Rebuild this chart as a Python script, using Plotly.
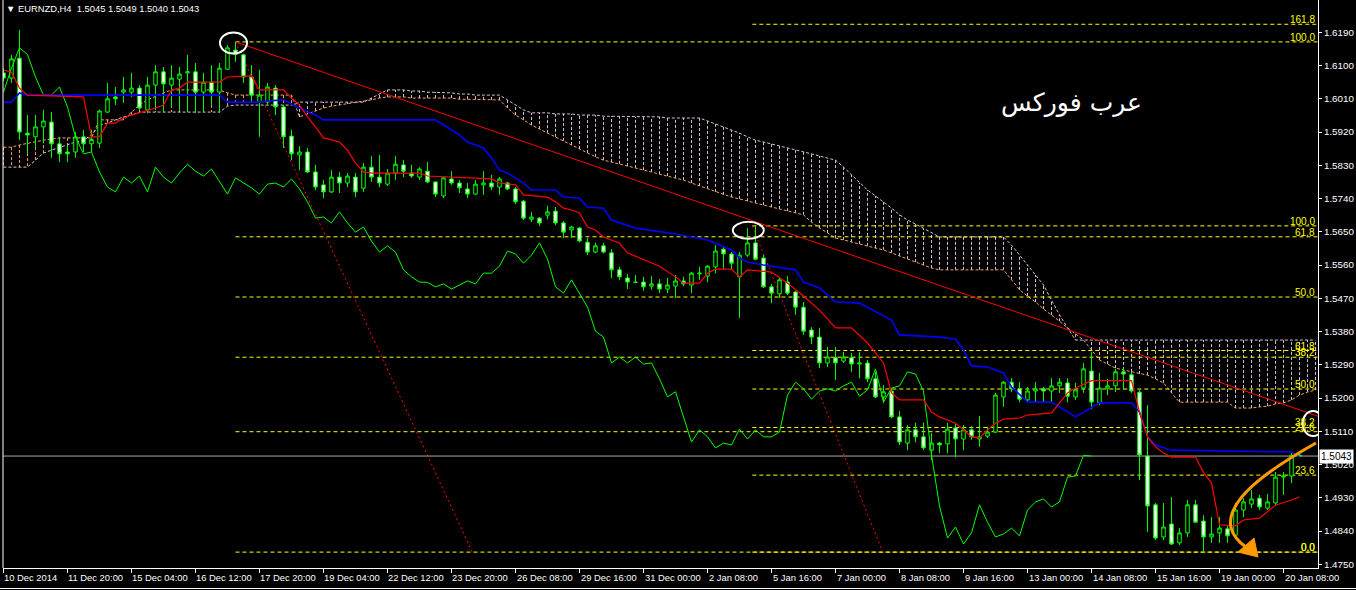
import plotly.graph_objects as go

# ---------------- data ----------------
tick_labels = ["10 Dec 2014", "11 Dec 20:00", "15 Dec 04:00", "16 Dec 12:00", "17 Dec 20:00",
               "19 Dec 04:00", "22 Dec 12:00", "23 Dec 20:00", "26 Dec 08:00", "29 Dec 16:00",
               "31 Dec 00:00", "2 Jan 08:00", "5 Jan 16:00", "7 Jan 00:00", "8 Jan 08:00",
               "9 Jan 16:00", "13 Jan 00:00", "14 Jan 08:00", "15 Jan 16:00", "19 Jan 00:00",
               "20 Jan 08:00"]
price_tick_labels = ["1.4750", "1.4840", "1.4930", "1.5020", "1.5110", "1.5200", "1.5290", "1.5380",
                     "1.5470", "1.5560", "1.5650", "1.5740", "1.5830", "1.5920", "1.6010", "1.6100",
                     "1.6190"]

opens = [1.6080, 1.6066, 1.6120, 1.5917, 1.5907, 1.5934, 1.5947, 1.5888, 1.5866, 1.5866,
         1.5907, 1.5888, 1.5890, 1.5974, 1.6015, 1.6028, 1.6028, 1.6039, 1.5980, 1.6047,
         1.6083, 1.6047, 1.6063, 1.6080, 1.6083, 1.6028, 1.6055, 1.6028, 1.6090, 1.6142,
         1.6129, 1.6069, 1.6001, 1.6001, 1.6039, 1.5988, 1.5909, 1.5858, 1.5866, 1.5812,
         1.5777, 1.5758, 1.5798, 1.5782, 1.5798, 1.5768, 1.5825, 1.5798, 1.5779, 1.5809,
         1.5831, 1.5809, 1.5798, 1.5814, 1.5785, 1.5747, 1.5793, 1.5782, 1.5766, 1.5752,
         1.5777, 1.5782, 1.5771, 1.5782, 1.5766, 1.5733, 1.5684, 1.5687, 1.5695, 1.5706,
         1.5674, 1.5655, 1.5660, 1.5622, 1.5595, 1.5612, 1.5593, 1.5547, 1.5525, 1.5514,
         1.5514, 1.5503, 1.5509, 1.5495, 1.5503, 1.5517, 1.5506, 1.5536, 1.5530, 1.5555,
         1.5603, 1.5590, 1.5528, 1.5587, 1.5620, 1.5579, 1.5501, 1.5482, 1.5514, 1.5487,
         1.5446, 1.5384, 1.5365, 1.5295, 1.5309, 1.5300, 1.5309, 1.5292, 1.5295, 1.5252,
         1.5203, 1.5219, 1.5149, 1.5078, 1.5114, 1.5095, 1.5059, 1.5078, 1.5076, 1.5119,
         1.5089, 1.5114, 1.5089, 1.5097, 1.5108, 1.5203, 1.5243, 1.5225, 1.5195, 1.5219,
         1.5225, 1.5219, 1.5233, 1.5241, 1.5203, 1.5227, 1.5273, 1.5187, 1.5227, 1.5233,
         1.5271, 1.5263, 1.5216, 1.5043, 1.4911, 1.4824, 1.4859, 1.4808, 1.4835, 1.4911,
         1.4867, 1.4824, 1.4835, 1.4846, 1.4829, 1.4897, 1.4913, 1.4929, 1.4902, 1.4916,
         1.4986, 1.4989, 1.5045]

highs = [1.6092, 1.6129, 1.6196, 1.5966, 1.5966, 1.5980, 1.5974, 1.5907, 1.5885, 1.5920,
         1.5926, 1.5926, 1.5980, 1.6053, 1.6042, 1.6069, 1.6080, 1.6047, 1.6069, 1.6101,
         1.6096, 1.6101, 1.6096, 1.6129, 1.6107, 1.6080, 1.6101, 1.6107, 1.6155, 1.6164,
         1.6132, 1.6101, 1.6088, 1.6053, 1.6047, 1.5993, 1.5926, 1.5882, 1.5877, 1.5831,
         1.5790, 1.5817, 1.5812, 1.5809, 1.5809, 1.5836, 1.5855, 1.5858, 1.5820, 1.5855,
         1.5844, 1.5831, 1.5825, 1.5839, 1.5785, 1.5798, 1.5814, 1.5790, 1.5782, 1.5790,
         1.5814, 1.5804, 1.5798, 1.5785, 1.5771, 1.5736, 1.5704, 1.5690, 1.5720, 1.5717,
         1.5679, 1.5666, 1.5663, 1.5633, 1.5620, 1.5620, 1.5603, 1.5555, 1.5536, 1.5533,
         1.5528, 1.5530, 1.5522, 1.5525, 1.5533, 1.5528, 1.5541, 1.5555, 1.5560, 1.5614,
         1.5609, 1.5595, 1.5595, 1.5660, 1.5666, 1.5587, 1.5509, 1.5528, 1.5530, 1.5490,
         1.5460, 1.5392, 1.5390, 1.5338, 1.5338, 1.5325, 1.5322, 1.5325, 1.5303, 1.5271,
         1.5235, 1.5227, 1.5165, 1.5127, 1.5133, 1.5133, 1.5105, 1.5081, 1.5133, 1.5133,
         1.5127, 1.5124, 1.5151, 1.5122, 1.5214, 1.5246, 1.5254, 1.5243, 1.5230, 1.5243,
         1.5230, 1.5254, 1.5254, 1.5254, 1.5241, 1.5295, 1.5325, 1.5268, 1.5252, 1.5279,
         1.5281, 1.5271, 1.5222, 1.5181, 1.4916, 1.4916, 1.4932, 1.4848, 1.4924, 1.4924,
         1.4883, 1.4878, 1.4878, 1.4856, 1.4916, 1.4929, 1.4951, 1.4938, 1.4940, 1.5000,
         1.5000, 1.5052, 1.5049]

lows = [1.6058, 1.6053, 1.5898, 1.5863, 1.5880, 1.5890, 1.5850, 1.5839, 1.5839, 1.5850,
        1.5866, 1.5866, 1.5877, 1.5972, 1.5993, 1.5999, 1.6015, 1.5980, 1.5972, 1.5980,
        1.5974, 1.5988, 1.5980, 1.5974, 1.5972, 1.5974, 1.5993, 1.5972, 1.6088, 1.6110,
        1.6053, 1.6004, 1.5907, 1.5993, 1.5966, 1.5877, 1.5844, 1.5817, 1.5809, 1.5763,
        1.5741, 1.5755, 1.5755, 1.5771, 1.5744, 1.5758, 1.5785, 1.5771, 1.5774, 1.5790,
        1.5798, 1.5796, 1.5790, 1.5782, 1.5744, 1.5741, 1.5777, 1.5755, 1.5741, 1.5750,
        1.5750, 1.5763, 1.5750, 1.5763, 1.5725, 1.5682, 1.5676, 1.5666, 1.5684, 1.5668,
        1.5633, 1.5633, 1.5622, 1.5587, 1.5592, 1.5592, 1.5525, 1.5520, 1.5495, 1.5511,
        1.5490, 1.5493, 1.5484, 1.5484, 1.5471, 1.5503, 1.5484, 1.5520, 1.5514, 1.5538,
        1.5549, 1.5547, 1.5417, 1.5582, 1.5574, 1.5498, 1.5457, 1.5471, 1.5479, 1.5425,
        1.5371, 1.5346, 1.5281, 1.5284, 1.5249, 1.5295, 1.5271, 1.5254, 1.5243, 1.5200,
        1.5187, 1.5146, 1.5073, 1.5059, 1.5081, 1.5059, 1.5032, 1.5051, 1.5051, 1.5040,
        1.5059, 1.5087, 1.5068, 1.5092, 1.5105, 1.5176, 1.5216, 1.5189, 1.5187, 1.5189,
        1.5187, 1.5187, 1.5214, 1.5189, 1.5195, 1.5214, 1.5170, 1.5181, 1.5208, 1.5216,
        1.5222, 1.5214, 1.4978, 1.4838, 1.4816, 1.4816, 1.4802, 1.4802, 1.4824, 1.4862,
        1.4781, 1.4808, 1.4808, 1.4808, 1.4821, 1.4878, 1.4902, 1.4897, 1.4897, 1.4910,
        1.4938, 1.4970, 1.5040]

closes = [1.6066, 1.6118, 1.5920, 1.5912, 1.5934, 1.5950, 1.5888, 1.5861, 1.5861, 1.5907,
          1.5888, 1.5900, 1.5977, 1.6010, 1.6010, 1.6034, 1.6039, 1.5985, 1.6047, 1.6083,
          1.6050, 1.6066, 1.6077, 1.6083, 1.6028, 1.6055, 1.6028, 1.6093, 1.6148, 1.6130,
          1.6069, 1.6020, 1.6020, 1.6042, 1.5988, 1.5907, 1.5861, 1.5866, 1.5812, 1.5771,
          1.5758, 1.5798, 1.5782, 1.5801, 1.5758, 1.5825, 1.5798, 1.5782, 1.5809, 1.5833,
          1.5814, 1.5801, 1.5820, 1.5785, 1.5752, 1.5796, 1.5782, 1.5769, 1.5752, 1.5779,
          1.5782, 1.5771, 1.5793, 1.5766, 1.5731, 1.5687, 1.5690, 1.5674, 1.5704, 1.5674,
          1.5649, 1.5663, 1.5625, 1.5595, 1.5612, 1.5595, 1.5547, 1.5528, 1.5514, 1.5513,
          1.5501, 1.5509, 1.5495, 1.5506, 1.5517, 1.5509, 1.5538, 1.5538, 1.5557, 1.5598,
          1.5590, 1.5565, 1.5587, 1.5620, 1.5576, 1.5501, 1.5484, 1.5520, 1.5484, 1.5446,
          1.5381, 1.5365, 1.5295, 1.5311, 1.5295, 1.5311, 1.5292, 1.5295, 1.5252, 1.5203,
          1.5217, 1.5149, 1.5081, 1.5114, 1.5095, 1.5065, 1.5078, 1.5073, 1.5116, 1.5089,
          1.5114, 1.5095, 1.5095, 1.5108, 1.5208, 1.5243, 1.5225, 1.5197, 1.5219, 1.5225,
          1.5219, 1.5233, 1.5243, 1.5205, 1.5222, 1.5279, 1.5189, 1.5227, 1.5233, 1.5271,
          1.5265, 1.5219, 1.5046, 1.4908, 1.4821, 1.4851, 1.4805, 1.4835, 1.4911, 1.4864,
          1.4824, 1.4832, 1.4848, 1.4827, 1.4897, 1.4919, 1.4927, 1.4905, 1.4919, 1.4986,
          1.4989, 1.5045, 1.5043]

# Ichimoku Tenkan-sen (red) read at its turning points: bar index, price
tenkan_bars = [0, 1, 2, 3, 10, 11, 12, 13, 14, 15, 16, 17, 18, 19, 20, 21, 22, 23, 27, 28, 31, 32, 35,
               36, 37, 38, 39, 40, 42, 43, 44, 45, 46, 52, 53, 57, 61, 62, 64, 65, 68, 69, 70, 71,
               72, 73, 74, 75, 77, 78, 80, 82, 84, 85, 87, 88, 89, 91, 92, 93, 96, 98, 100, 102,
               104, 106, 108, 109, 110, 111, 112, 115, 116, 117, 119, 120, 121, 122, 123, 124, 125,
               127, 128, 131, 132, 133, 134, 136, 141, 142, 143, 144, 145, 146, 149, 150, 151, 152,
               154, 155, 157, 159, 161, 162]
tenkan_vals = [1.6088, 1.6082, 1.6039, 1.6020, 1.6015, 1.5907, 1.5907, 1.5944, 1.5944, 1.5958,
               1.5966, 1.5972, 1.5980, 1.5985, 1.5993, 1.6034, 1.6039, 1.6055, 1.6055, 1.6069,
               1.6072, 1.6034, 1.6034, 1.6012, 1.5993, 1.5961, 1.5934, 1.5904, 1.5893, 1.5871,
               1.5836, 1.5812, 1.5809, 1.5809, 1.5801, 1.5796, 1.5793, 1.5782, 1.5777, 1.5750,
               1.5744, 1.5731, 1.5714, 1.5709, 1.5701, 1.5663, 1.5655, 1.5636, 1.5619, 1.5593,
               1.5576, 1.5557, 1.5528, 1.5511, 1.5511, 1.5538, 1.5549, 1.5549, 1.5528, 1.5547,
               1.5541, 1.5511, 1.5476, 1.5438, 1.5390, 1.5390, 1.5349, 1.5322, 1.5295, 1.5214,
               1.5195, 1.5195, 1.5162, 1.5149, 1.5132, 1.5114, 1.5095, 1.5092, 1.5114, 1.5132,
               1.5143, 1.5146, 1.5154, 1.5160, 1.5187, 1.5214, 1.5227, 1.5247, 1.5247, 1.5162,
               1.5095, 1.5068, 1.5051, 1.5040, 1.5040, 1.4999, 1.4970, 1.4857, 1.4854, 1.4870,
               1.4875, 1.4910, 1.4924, 1.4932]

# Ichimoku Kijun-sen (blue) read at its turning points
kijun_bars = [0, 1, 2, 3, 27, 28, 32, 33, 35, 36, 37, 38, 39, 40, 54, 56, 57, 58, 60, 61, 62, 63, 64,
              65, 66, 69, 70, 72, 73, 75, 76, 79, 84, 86, 88, 91, 92, 93, 95, 99, 100, 102, 103,
              104, 107, 109, 111, 112, 117, 119, 120, 121, 123, 125, 126, 128, 131, 134, 136, 137,
              141, 142, 143, 144, 146, 161, 162]
kijun_vals = [1.6001, 1.6001, 1.6026, 1.6020, 1.6020, 1.6001, 1.6001, 1.6004, 1.6007, 1.5996,
              1.5985, 1.5974, 1.5966, 1.5953, 1.5953, 1.5926, 1.5912, 1.5893, 1.5877, 1.5850,
              1.5817, 1.5809, 1.5796, 1.5782, 1.5763, 1.5763, 1.5744, 1.5741, 1.5717, 1.5714,
              1.5682, 1.5660, 1.5644, 1.5636, 1.5628, 1.5601, 1.5579, 1.5568, 1.5560, 1.5547,
              1.5514, 1.5498, 1.5479, 1.5460, 1.5457, 1.5433, 1.5411, 1.5371, 1.5365, 1.5360,
              1.5330, 1.5287, 1.5284, 1.5268, 1.5230, 1.5189, 1.5189, 1.5149, 1.5173, 1.5187,
              1.5187, 1.5162, 1.5095, 1.5073, 1.5059, 1.5054, 1.5040]

# Senkou Span A (sandy brown) and Span B (thistle), one value per bar (cloud runs to bar 164)
span_a = [1.5879, 1.5879, 1.5885, 1.5890, 1.5893, 1.5898, 1.5901, 1.5904, 1.5904, 1.5904,
          1.5904, 1.5904, 1.5953, 1.5953, 1.5953, 1.5953, 1.5974, 1.5993, 1.6007, 1.6017,
          1.6026, 1.6034, 1.6034, 1.6034, 1.6034, 1.6034, 1.6034, 1.6034, 1.6026, 1.6020,
          1.6020, 1.6020, 1.6020, 1.6020, 1.6020, 1.6020, 1.6020, 1.5961, 1.5969, 1.5977,
          1.5985, 1.5990, 1.5993, 1.5996, 1.5999, 1.6004, 1.6007, 1.6012, 1.6015, 1.6015,
          1.6015, 1.6012, 1.6012, 1.6012, 1.6012, 1.6012, 1.6012, 1.6009, 1.6009, 1.6009,
          1.6007, 1.6007, 1.6007, 1.5985, 1.5966, 1.5953, 1.5939, 1.5928, 1.5917, 1.5907,
          1.5896, 1.5885, 1.5874, 1.5863, 1.5853, 1.5844, 1.5839, 1.5834, 1.5828, 1.5823,
          1.5817, 1.5812, 1.5806, 1.5801, 1.5796, 1.5790, 1.5782, 1.5774, 1.5766, 1.5758,
          1.5750, 1.5744, 1.5739, 1.5733, 1.5728, 1.5722, 1.5717, 1.5712, 1.5706, 1.5701,
          1.5696, 1.5676, 1.5660, 1.5647, 1.5633, 1.5628, 1.5622, 1.5617, 1.5612, 1.5606,
          1.5601, 1.5593, 1.5585, 1.5576, 1.5568, 1.5560, 1.5552, 1.5547, 1.5547, 1.5547,
          1.5547, 1.5547, 1.5547, 1.5547, 1.5547, 1.5547, 1.5520, 1.5493, 1.5476, 1.5460,
          1.5441, 1.5425, 1.5408, 1.5390, 1.5373, 1.5357, 1.5330, 1.5303, 1.5292, 1.5281,
          1.5276, 1.5271, 1.5265, 1.5262, 1.5252, 1.5241, 1.5214, 1.5189, 1.5189, 1.5189,
          1.5189, 1.5189, 1.5189, 1.5189, 1.5173, 1.5173, 1.5173, 1.5176, 1.5178, 1.5184,
          1.5187, 1.5195, 1.5208, 1.5216, 1.5222]

span_b = [1.5825, 1.5825, 1.5825, 1.5825, 1.5844, 1.5863, 1.5871, 1.5879, 1.5885, 1.5893,
          1.5898, 1.5912, 1.5939, 1.5944, 1.5953, 1.5961, 1.5966, 1.5974, 1.5974, 1.5974,
          1.5974, 1.5974, 1.5974, 1.5974, 1.5974, 1.5974, 1.5974, 1.5974, 1.5990, 1.5993,
          1.5993, 1.5993, 1.5993, 1.5993, 1.5993, 1.5993, 1.5993, 1.6001, 1.6001, 1.6001,
          1.6001, 1.6001, 1.6001, 1.6001, 1.6001, 1.6001, 1.6012, 1.6023, 1.6034, 1.6034,
          1.6034, 1.6031, 1.6031, 1.6028, 1.6028, 1.6026, 1.6026, 1.6023, 1.6023, 1.6020,
          1.6020, 1.6020, 1.6020, 1.6007, 1.5993, 1.5980, 1.5972, 1.5972, 1.5972, 1.5969,
          1.5969, 1.5969, 1.5966, 1.5966, 1.5966, 1.5963, 1.5963, 1.5963, 1.5963, 1.5961,
          1.5961, 1.5961, 1.5961, 1.5958, 1.5958, 1.5958, 1.5958, 1.5958, 1.5950, 1.5942,
          1.5934, 1.5926, 1.5917, 1.5907, 1.5898, 1.5893, 1.5888, 1.5882, 1.5877, 1.5871,
          1.5866, 1.5861, 1.5855, 1.5850, 1.5844, 1.5825, 1.5804, 1.5782, 1.5763, 1.5747,
          1.5731, 1.5714, 1.5696, 1.5682, 1.5671, 1.5660, 1.5649, 1.5636, 1.5636, 1.5636,
          1.5636, 1.5636, 1.5636, 1.5636, 1.5636, 1.5636, 1.5614, 1.5587, 1.5560, 1.5533,
          1.5506, 1.5465, 1.5425, 1.5390, 1.5357, 1.5357, 1.5357, 1.5357, 1.5357, 1.5357,
          1.5357, 1.5357, 1.5357, 1.5357, 1.5357, 1.5357, 1.5357, 1.5357, 1.5357, 1.5357,
          1.5357, 1.5357, 1.5357, 1.5357, 1.5357, 1.5357, 1.5357, 1.5357, 1.5357, 1.5357,
          1.5357, 1.5357, 1.5357, 1.5357, 1.5357]

chikou_shift = 26

# Fibonacci retracements (anchor bars / prices, level ratios in %)
fibA_bars = [29, 58.6]
fibA_prices = [1.6164, 1.4783]
fibA_levels = [0.0, 23.6, 38.2, 50.0, 61.8, 100.0]
fibB_bars = [93.6, 109.9]
fibB_prices = [1.5666, 1.4783]
fibB_levels = [0.0, 23.6, 38.2, 50.0, 61.8, 100.0, 161.8]

# Red trend line anchors
trend_bars = [29, 93.5]
trend_prices = [1.6164, 1.5681]

title_text = "EURNZD,H4&nbsp;&nbsp;1.5045 1.5049 1.5040 1.5043"
watermark = "عرب فوركس"

# ---------------- figure ----------------
FONT = "Liberation Sans, Arial, sans-serif"
FS = 9.4
n = len(closes)
bars = list(range(n))
x_range = [-0.06, 164.31]
y_range = [1.4740, 1.62774]
X_FAR = 170

fig = go.Figure()

# cloud hatching
up_x, up_y, dn_x, dn_y = [], [], [], []
for i, (a, b) in enumerate(zip(span_a, span_b)):
    if a >= b:
        up_x += [i, i, None]
        up_y += [a, b, None]
    else:
        dn_x += [i, i, None]
        dn_y += [a, b, None]
fig.add_trace(go.Scatter(x=up_x, y=up_y, mode="lines", hoverinfo="skip",
                         line=dict(color="#F4A460", width=1, dash="3px,2px")))
fig.add_trace(go.Scatter(x=dn_x, y=dn_y, mode="lines", hoverinfo="skip",
                         line=dict(color="#D8BFD8", width=1, dash="3px,2px")))
cloud_x = list(range(len(span_a)))
fig.add_trace(go.Scatter(x=cloud_x, y=span_a, mode="lines",
                         line=dict(color="#F4A460", width=1, dash="3px,2px")))
fig.add_trace(go.Scatter(x=cloud_x, y=span_b, mode="lines",
                         line=dict(color="#D8BFD8", width=1, dash="3px,2px")))

annotations = []

# fibonacci
for fb, fp, lv in [(fibA_bars, fibA_prices, fibA_levels), (fibB_bars, fibB_prices, fibB_levels)]:
    hi, lo = fp[0], fp[1]
    for r in lv:
        p = lo + (hi - lo) * r / 100.0
        fig.add_trace(go.Scatter(x=[fb[0], X_FAR], y=[p, p], mode="lines",
                                 line=dict(color="#FFFF00", width=1, dash="4px,3px")))
        annotations.append(dict(x=1, xref="paper", y=p, yref="y", text=f"{r:.1f}",
                                showarrow=False, xanchor="right", yanchor="bottom",
                                xshift=-1, yshift=-3,
                                font=dict(color="#FFFF00", size=FS + 0.6, family=FONT)))
    fig.add_trace(go.Scatter(x=fb, y=fp, mode="lines",
                             line=dict(color="#FF0000", width=1, dash="2px,3px")))

# trend line (ray)
slope = (trend_prices[1] - trend_prices[0]) / (trend_bars[1] - trend_bars[0])
fig.add_trace(go.Scatter(x=[trend_bars[0], X_FAR],
                         y=[trend_prices[0], trend_prices[0] + slope * (X_FAR - trend_bars[0])],
                         mode="lines", line=dict(color="#FF0000", width=1)))

# current price line
fig.add_trace(go.Scatter(x=[-1, X_FAR], y=[closes[-1], closes[-1]], mode="lines",
                         line=dict(color="#A8A8A8", width=1)))

# candles (overlay axes so they sit above cloud/levels)
fig.add_trace(go.Candlestick(x=bars, open=opens, high=highs, low=lows, close=closes,
                             xaxis="x2", yaxis="y2",
                             increasing=dict(line=dict(color="#00FF00", width=1), fillcolor="#000000"),
                             decreasing=dict(line=dict(color="#00FF00", width=1), fillcolor="#FFFFFF"),
                             whiskerwidth=0, hoverinfo="skip"))

# chikou span
fig.add_trace(go.Scatter(x=[i - chikou_shift for i in range(chikou_shift, n)],
                         y=closes[chikou_shift:], mode="lines", xaxis="x2", yaxis="y2",
                         line=dict(color="#00FF00", width=1)))
# kijun / tenkan
fig.add_trace(go.Scatter(x=kijun_bars, y=kijun_vals, mode="lines", xaxis="x2", yaxis="y2",
                         line=dict(color="#0000FF", width=1.6)))
fig.add_trace(go.Scatter(x=tenkan_bars, y=tenkan_vals, mode="lines", xaxis="x2", yaxis="y2",
                         line=dict(color="#FF0000", width=1.2)))

# x tick labels (left-aligned like MT4)
tick_bars = list(range(0, 8 * len(tick_labels), 8))
for tb, tl in zip(tick_bars, tick_labels):
    annotations.append(dict(x=tb, xref="x", y=0, yref="paper", text=tl, showarrow=False,
                            xanchor="left", yanchor="top", xshift=-1, yshift=-2,
                            font=dict(color="white", size=FS, family=FONT)))

# title
annotations.append(dict(x=0, xref="paper", y=1, yref="paper", text="▼ " + title_text,
                        showarrow=False, xanchor="left", yanchor="top", xshift=1, yshift=-1,
                        font=dict(color="white", size=FS, family=FONT)))
# watermark
annotations.append(dict(x=0.8129, xref="paper", y=0.8187, yref="paper", text=watermark,
                        showarrow=False, xanchor="center", yanchor="middle",
                        font=dict(color="white", size=25, family="DejaVu Sans, sans-serif")))
# current price label
annotations.append(dict(x=1, xref="paper", y=closes[-1], yref="y", text=f"{closes[-1]:.4f}",
                        showarrow=False, xanchor="left", yanchor="middle", xshift=1,
                        bgcolor="white", borderpad=1,
                        font=dict(color="black", size=FS + 0.6, family=FONT)))

price_ticks = [float(t) for t in price_tick_labels]

shapes = [
    dict(type="line", xref="paper", yref="paper", x0=0, x1=0, y0=0, y1=1,
         line=dict(color="white", width=1)),
    dict(type="line", xref="paper", yref="paper", x0=-0.01, x1=1.05, y0=-20.5 / 568, y1=-20.5 / 568,
         line=dict(color="white", width=1)),
    # circles
    dict(type="circle", xref="x", yref="y", xsizemode="pixel", ysizemode="pixel",
         xanchor=28.75, yanchor=1.6161, x0=-13.5, x1=13.5, y0=-10.5, y1=10.5,
         line=dict(color="white", width=2)),
    dict(type="circle", xref="x", yref="y", xsizemode="pixel", ysizemode="pixel",
         xanchor=93.1, yanchor=1.5654, x0=-15.5, x1=15.5, y0=-8.5, y1=8.5,
         line=dict(color="white", width=2)),
    dict(type="circle", xref="x", yref="y", xsizemode="pixel", ysizemode="pixel",
         xanchor=163.7, yanchor=1.5131, x0=-10.5, x1=10.5, y0=-12.5, y1=12.5,
         line=dict(color="white", width=2)),
    # orange arrow
    dict(type="path", xref="x", yref="y",
         path="M 164.06,1.50783 C 158.06,1.50052 152.69,1.49240 153.44,1.48482 "
              "C 153.81,1.48211 154.56,1.48076 155.31,1.47968",
         line=dict(color="#FF9A00", width=3)),
    dict(type="path", xref="x", yref="y",
         path="M 156.81,1.47697 L 156.31,1.48211 L 154.31,1.47832 Z",
         fillcolor="#FF9A00", line=dict(color="#FF9A00", width=1)),
]

fig.update_layout(
    width=1356, height=590,
    margin=dict(l=3, r=38, t=0, b=22),
    paper_bgcolor="black", plot_bgcolor="black",
    showlegend=False, hovermode=False, boxgap=0.38,
    xaxis=dict(range=x_range, showgrid=False, zeroline=False, tickvals=tick_bars,
               ticks="outside", ticklen=4, tickcolor="white", tickwidth=1,
               showticklabels=False, showline=True, linecolor="white", linewidth=1,
               rangeslider=dict(visible=False), fixedrange=True),
    yaxis=dict(range=y_range, side="right", showgrid=False, zeroline=False,
               tickvals=price_ticks, ticktext=price_tick_labels, ticks="outside",
               ticklen=3, tickcolor="white", tickwidth=1,
               tickfont=dict(color="white", size=FS + 0.4, family=FONT),
               showline=True, linecolor="white", linewidth=1, fixedrange=True),
    xaxis2=dict(range=x_range, overlaying="x", visible=False, rangeslider=dict(visible=False),
                fixedrange=True),
    yaxis2=dict(range=y_range, overlaying="y", side="right", visible=False, fixedrange=True),
    annotations=annotations,
    shapes=shapes,
)

fig.write_html("out.html",
               config={"displayModeBar": False, "staticPlot": True},
               post_script="document.body.style.margin='0';document.body.style.padding='0';"
                           "document.body.style.background='black';"
                           "document.documentElement.style.overflow='hidden';")
